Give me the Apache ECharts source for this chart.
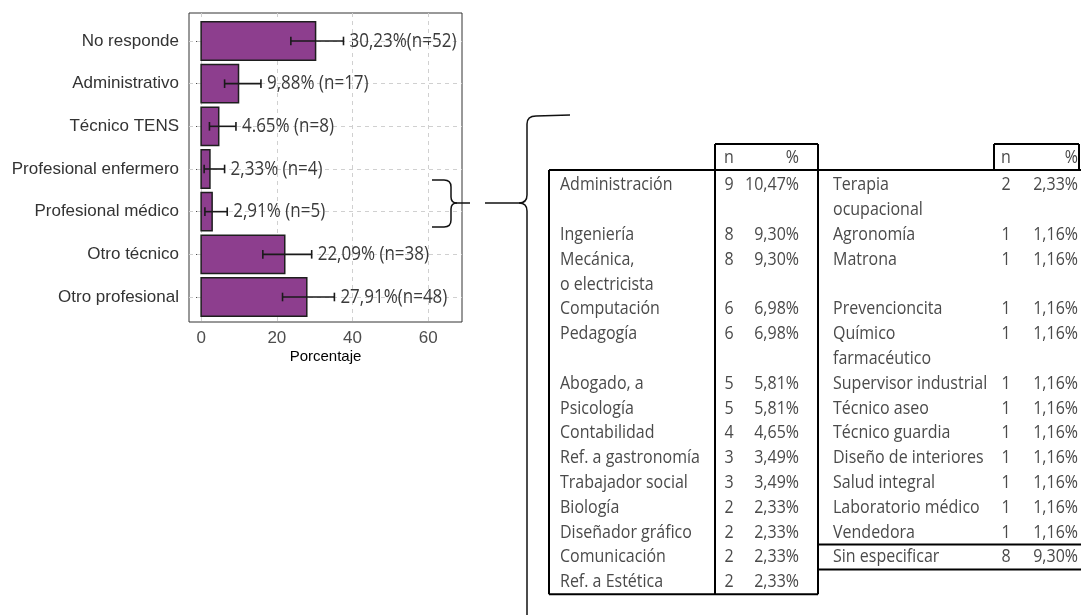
<!DOCTYPE html>
<html>
<head>
<meta charset="utf-8">
<script src="https://cdn.jsdelivr.net/npm/echarts@6/dist/echarts.min.js"></script>
<style>
html,body{margin:0;padding:0;background:#fff;}
#c{width:1081px;height:615px;}
</style>
</head>
<body>
<div id="c"></div>
<script>
// ---------- chart data ----------
const categories = ['No responde','Administrativo','Técnico TENS','Profesional enfermero','Profesional médico','Otro técnico','Otro profesional'];
const percents = [30.23, 9.88, 4.65, 2.33, 2.91, 22.09, 27.91];
const ciLow  = [23.7, 6.2, 2.2, 0.8, 1.0, 16.3, 21.5];
const ciHigh = [37.6, 15.8, 9.2, 6.2, 6.9, 29.2, 35.2];
const barLabels = ['30,23%(n=52)','9,88% (n=17)','4.65% (n=8)','2,33% (n=4)','2,91% (n=5)','22,09% (n=38)','27,91%(n=48)'];
const xTicks = [0, 20, 40, 60];
const xTitle = 'Porcentaje';

// ---------- table data ----------
const headerN = 'n';
const headerPct = '%';
const leftNames = ['Administración','Ingeniería','Mecánica,\no electricista','Computación','Pedagogía','Abogado, a','Psicología','Contabilidad','Ref. a gastronomía','Trabajador social','Biología','Diseñador gráfico','Comunicación','Ref. a Estética'];
const leftN = [9, 8, 8, 6, 6, 5, 5, 4, 3, 3, 2, 2, 2, 2];
const leftPct = ['10,47%','9,30%','9,30%','6,98%','6,98%','5,81%','5,81%','4,65%','3,49%','3,49%','2,33%','2,33%','2,33%','2,33%'];
const rightNames = ['Terapia\nocupacional','Agronomía','Matrona','Prevencioncita','Químico\nfarmacéutico','Supervisor industrial','Técnico aseo','Técnico guardia','Diseño de interiores','Salud integral','Laboratorio médico','Vendedora','Sin especificar'];
const rightN = [2, 1, 1, 1, 1, 1, 1, 1, 1, 1, 1, 1, 8];
const rightPct = ['2,33%','1,16%','1,16%','1,16%','1,16%','1,16%','1,16%','1,16%','1,16%','1,16%','1,16%','1,16%','9,30%'];

// ---------- layout ----------
const GRID = {left: 189, top: 13, width: 273, height: 309};
const BAR_COLOR = '#8D3E8E';
const TXT_FONT = '"Open Sans", "Noto Sans", sans-serif';
const AX_FONT = '"Liberation Sans", Arial, sans-serif';
const SY = 1.18; // vertical stretch of the reference's text

const chart = echarts.init(document.getElementById('c'), null, {renderer: 'canvas'});

// table graphics
const graphics = [];
const LINE_H = 24.8, FIRST_Y = 185, HEADER_Y = 158;
const TOP_Y = 144, RULE_Y = 170;
const X_L = 549, X_LN = 715, X_LR = 818, X_RN = 994, X_RR = 1079, X_END = 1081;
const COL = {lName: 560, lN: 729, lPct: 799, rName: 833, rN: 1006, rPct: 1078};

function txt(x, y, s, align) {
  graphics.push({type: 'text', x: x, y: y, scaleY: SY, silent: true,
    style: {text: String(s), x: 0, y: 0, align: align || 'left', verticalAlign: 'middle',
      font: '16px ' + TXT_FONT, fill: '#4a4a4a'}});
}
function line(x1, y1, x2, y2, w, c) {
  graphics.push({type: 'line', silent: true, shape: {x1: x1, y1: y1, x2: x2, y2: y2},
    style: {stroke: c || '#000', lineWidth: w || 2}});
}
function quad(x1, y1, cx, cy, x2, y2) {
  graphics.push({type: 'bezierCurve', silent: true,
    shape: {x1: x1, y1: y1, cpx1: cx, cpy1: cy, x2: x2, y2: y2},
    style: {stroke: '#111', fill: null, lineWidth: 1.5}});
}

// headers
txt(COL.lN, HEADER_Y, headerN, 'center');
txt(COL.lPct, HEADER_Y, headerPct, 'right');
txt(COL.rN, HEADER_Y, headerN, 'center');
txt(COL.rPct, HEADER_Y, headerPct, 'right');

let lineIdx = 0;
let rightSepY = 0, rightBottomY = 0, leftBottomY = 0;
const nRows = Math.max(leftNames.length, rightNames.length);
for (let k = 0; k < nRows; k++) {
  const lp = k < leftNames.length ? leftNames[k].split('\n') : [];
  const rp = k < rightNames.length ? rightNames[k].split('\n') : [];
  const y0 = FIRST_Y + lineIdx * LINE_H;
  lp.forEach((s, j) => txt(COL.lName, y0 + j * LINE_H, s));
  if (lp.length) { txt(COL.lN, y0, leftN[k], 'center'); txt(COL.lPct, y0, leftPct[k], 'right'); }
  rp.forEach((s, j) => txt(COL.rName, y0 + j * LINE_H, s));
  if (rp.length) { txt(COL.rN, y0, rightN[k], 'center'); txt(COL.rPct, y0, rightPct[k], 'right'); }
  const nl = Math.max(lp.length, rp.length);
  if (k === rightNames.length - 1) { rightSepY = y0 - LINE_H / 2; rightBottomY = y0 + LINE_H / 2 * nl; }
  lineIdx += nl;
}
leftBottomY = FIRST_Y + (lineIdx - 1) * LINE_H + LINE_H / 2;

// table rules
line(X_L, RULE_Y, X_END, RULE_Y);
line(X_L, RULE_Y, X_L, leftBottomY);
line(X_L, leftBottomY, X_LR, leftBottomY);
line(X_LN, TOP_Y, X_LN, leftBottomY);
line(X_LR, TOP_Y, X_LR, leftBottomY);
line(X_LN, TOP_Y, X_LR, TOP_Y);
line(X_RN, TOP_Y, X_RR, TOP_Y);
line(X_RN, TOP_Y, X_RN, RULE_Y);
line(X_RR, TOP_Y, X_RR, RULE_Y);
line(X_LR, rightSepY, X_END, rightSepY);
line(X_LR, rightBottomY, X_END, rightBottomY);

// small brace
line(432, 180, 444, 180, 1.5, '#111');
quad(444, 180, 451, 180, 451, 187);
line(451, 187, 451, 197, 1.5, '#111');
quad(451, 197, 451, 203, 457, 203);
line(457, 203, 470, 203, 1.5, '#111');
quad(457, 203, 451, 203, 451, 209);
line(451, 209, 451, 220, 1.5, '#111');
quad(451, 220, 451, 227, 444, 227);
line(444, 227, 432, 227, 1.5, '#111');
// big brace
line(485, 203, 519, 203, 1.5, '#111');
quad(519, 203, 527, 203, 527, 195);
line(527, 195, 527, 124, 1.5, '#111');
quad(527, 124, 527, 116, 536, 116);
line(536, 116, 570, 115, 1.5, '#111');
quad(519, 203, 527, 203, 527, 211);
line(527, 211, 527, 620, 1.5, '#111');

const option = {
  animation: false,
  backgroundColor: '#fff',
  grid: {left: GRID.left, top: GRID.top, width: GRID.width, height: GRID.height,
    show: true, borderColor: '#333', borderWidth: 1, backgroundColor: 'transparent'},
  xAxis: {
    type: 'value', min: -3.2, max: 68.9,
    name: xTitle, nameLocation: 'middle', nameGap: 27, nameMoveOverlap: false,
    nameTextStyle: {fontFamily: AX_FONT, fontSize: 15, color: '#000'},
    axisLine: {show: false},
    axisTick: {show: true, length: 4, customValues: xTicks, lineStyle: {color: '#333'}},
    axisLabel: {customValues: xTicks, margin: 8, fontFamily: AX_FONT, fontSize: 17, color: '#4d4d4d'},
    splitLine: {show: false}
  },
  yAxis: {
    type: 'value', inverse: true, min: -0.656, max: 6.586,
    axisLine: {show: false},
    axisTick: {show: true, length: 5, customValues: categories.map((c, i) => i), lineStyle: {color: '#333'}},
    axisLabel: {customValues: categories.map((c, i) => i), margin: 10, fontFamily: AX_FONT, fontSize: 17,
      color: '#333', formatter: v => categories[Math.round(v)]},
    splitLine: {show: false}
  },
  graphic: graphics,
  series: [
    {
      type: 'scatter', data: [], z: 1, silent: true,
      markLine: {
        z: 1, silent: true, symbol: 'none', label: {show: false},
        lineStyle: {type: [4, 4], color: '#d0d0d0', width: 1},
        data: xTicks.map(v => ({xAxis: v})).concat(categories.map((c, i) => ({yAxis: i})))
      }
    },
    {
      type: 'custom', z: 6, silent: true,
      data: categories.map((c, i) => [percents[i], i]),
      encode: {x: 0, y: 1},
      renderItem: function (params, api) {
        const v = api.value(0), i = api.value(1);
        const p0 = api.coord([0, i]);
        const p1 = api.coord([v, i]);
        const h = Math.abs(api.size([0, 0.9])[1]);
        return {type: 'rect', shape: {x: p0[0], y: p0[1] - h / 2, width: p1[0] - p0[0], height: h},
          style: {fill: BAR_COLOR, stroke: '#1e1e1e', lineWidth: 1.5}};
      }
    },
    {
      type: 'custom', z: 7, silent: true,
      data: categories.map((c, i) => [ciLow[i], i, ciHigh[i]]),
      encode: {x: [0, 2], y: 1},
      renderItem: function (params, api) {
        const lo = api.value(0), i = api.value(1), hi = api.value(2);
        const a = api.coord([lo, i]);
        const b = api.coord([hi, i]);
        const cap = 4.3;
        const st = {stroke: '#1a1a1a', lineWidth: 1.6};
        return {type: 'group', children: [
          {type: 'line', shape: {x1: a[0], y1: a[1], x2: b[0], y2: b[1]}, style: st},
          {type: 'line', shape: {x1: a[0], y1: a[1] - cap, x2: a[0], y2: a[1] + cap}, style: st},
          {type: 'line', shape: {x1: b[0], y1: b[1] - cap, x2: b[0], y2: b[1] + cap}, style: st},
          {type: 'text', x: b[0] + 6, y: b[1], scaleY: SY,
            style: {text: barLabels[params.dataIndex], x: 0, y: 0, align: 'left', verticalAlign: 'middle',
              font: '17px ' + TXT_FONT, fill: '#3a3a3a'}}
        ]};
      }
    }
  ]
};
chart.setOption(option);
</script>
</body>
</html>
